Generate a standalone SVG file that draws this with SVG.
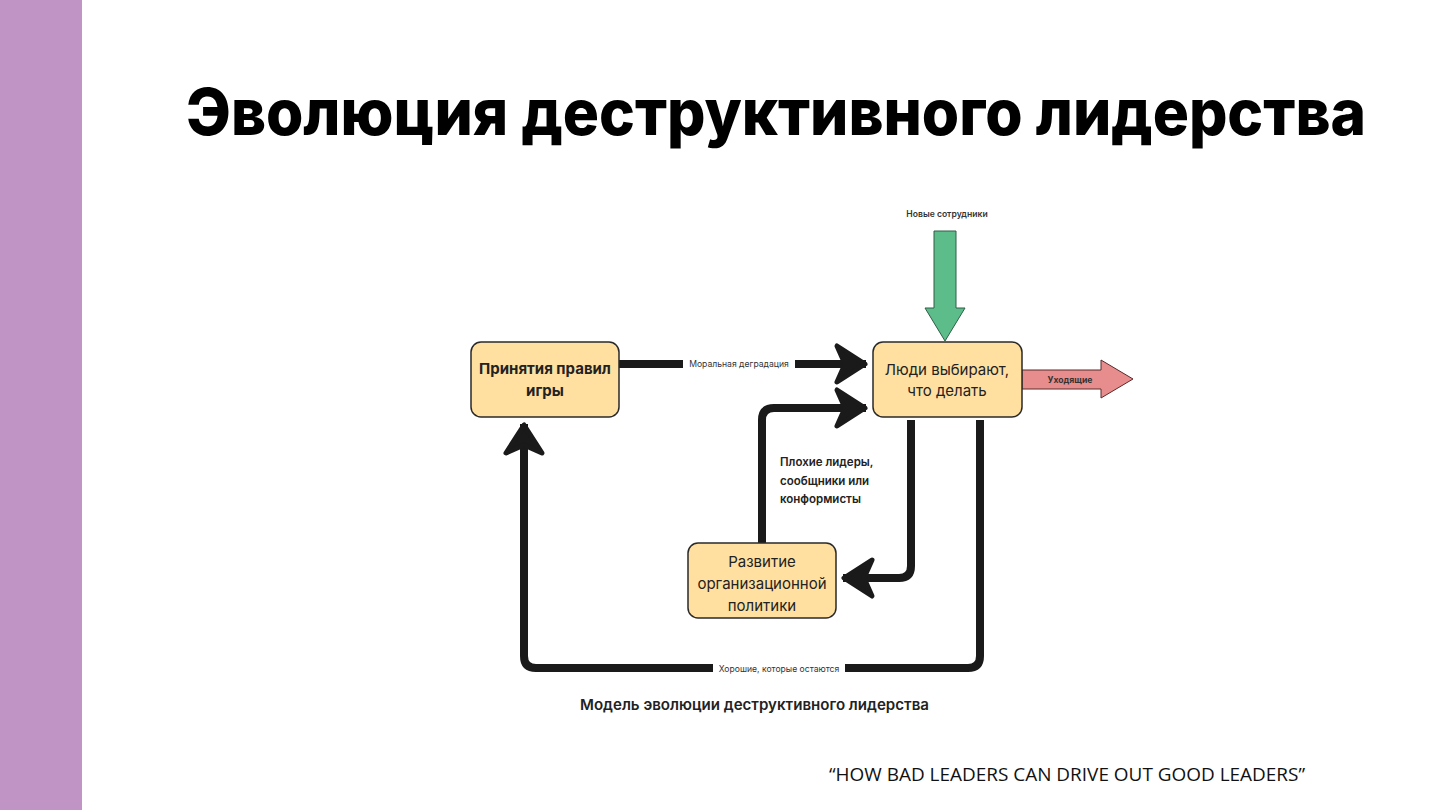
<svg xmlns="http://www.w3.org/2000/svg" width="1440" height="810" viewBox="0 0 1440 810">
<style>
.box{fill:#FFE0A0;stroke:#2a2a2a;stroke-width:1.5}
.bt{font-family:Inter,"Noto Sans",sans-serif;font-size:15px;fill:#222;text-anchor:middle}
.conn{fill:none;stroke:#1a1a1a;stroke-width:8;stroke-linejoin:round}
.lbl{font-family:Inter,"Liberation Sans",sans-serif;font-size:8.6px;fill:#333;text-anchor:middle}
</style>
<defs>
<marker id="ah" markerUnits="userSpaceOnUse" markerWidth="44" markerHeight="50" viewBox="-38 -25 40 50" refX="0" refY="0" orient="auto">
<path d="M-1,0 L-29,-18 L-21,0 L-29,18 Z" fill="#1a1a1a" stroke="#1a1a1a" stroke-width="5" stroke-linejoin="round"/>
</marker>
</defs>
<rect x="0" y="0" width="1440" height="810" fill="#fff"/>
<rect x="0" y="0" width="82" height="810" fill="#C094C4"/>
<text x="186" y="135" font-family="Inter,'Open Sans',sans-serif" font-weight="800" font-size="64" fill="#000" textLength="1180" lengthAdjust="spacingAndGlyphs">Эволюция деструктивного лидерства</text>

<g id="connectors">
<path class="conn" d="M619,364 L866,364" marker-end="url(#ah)"/>
<path class="conn" d="M762,543 L762,420 Q762,408 774,408 L866,408" marker-end="url(#ah)"/>
<path class="conn" d="M911,420 L911,566 Q911,578 899,578 L843,578" marker-end="url(#ah)"/>
<path class="conn" d="M980,420 L980,656 Q980,668 968,668 L536,668 Q524,668 524,656 L524,424" marker-end="url(#ah)"/>
<rect x="683" y="358" width="112" height="12" fill="#fff"/>
<text class="lbl" x="739" y="367">Моральная деградация</text>
<rect x="713" y="662" width="132" height="12" fill="#fff"/>
<text class="lbl" x="779" y="672">Хорошие, которые остаются</text>
<g font-family="Inter,'Liberation Sans',sans-serif" font-size="11.5" font-weight="600" fill="#222">
<text x="780" y="466">Плохие лидеры,</text>
<text x="780" y="485">сообщники или</text>
<text x="780" y="503">конформисты</text>
</g>
</g>

<g id="new-employees">
<text class="lbl" x="947" y="217" font-weight="600">Новые сотрудники</text>
<path d="M934,231 L956,231 L956,308 L965,308 L945,341 L925,308 L934,308 Z" fill="#5CBD8B" stroke="#2f5f45" stroke-width="1"/>
</g>

<g id="leaving">
<path d="M1022,370 L1101,370 L1101,360 L1133,379 L1101,398 L1101,389 L1022,389 Z" fill="#E88D8D" stroke="#5a2a2a" stroke-width="1"/>
<text class="lbl" x="1070" y="383" font-weight="700" fill="#222">Уходящие</text>
</g>

<g id="rules">
<rect class="box" x="471" y="342" width="148" height="75" rx="10"/>
<text class="bt" x="545" y="374" font-weight="700" font-size="14.5">Принятия правил</text>
<text class="bt" x="545" y="396" font-weight="700" font-size="14.5">игры</text>
</g>

<g id="people">
<rect class="box" x="873" y="342" width="149" height="75" rx="10"/>
<text class="bt" x="947" y="375">Люди выбирают,</text>
<text class="bt" x="947" y="396">что делать</text>
</g>

<g id="politics">
<rect class="box" x="688" y="543" width="148" height="75" rx="10"/>
<text class="bt" x="762" y="567">Развитие</text>
<text class="bt" x="762" y="589">организационной</text>
<text class="bt" x="762" y="611">политики</text>
</g>

<text x="580" y="710" font-family="Inter,'Liberation Sans',sans-serif" font-size="15" font-weight="600" fill="#222" textLength="349" lengthAdjust="spacingAndGlyphs">Модель эволюции деструктивного лидерства</text>
<text x="829" y="781" font-family="'Open Sans','Liberation Sans',sans-serif" font-size="19" fill="#111" textLength="476" lengthAdjust="spacingAndGlyphs">“HOW BAD LEADERS CAN DRIVE OUT GOOD LEADERS”</text>
</svg>
